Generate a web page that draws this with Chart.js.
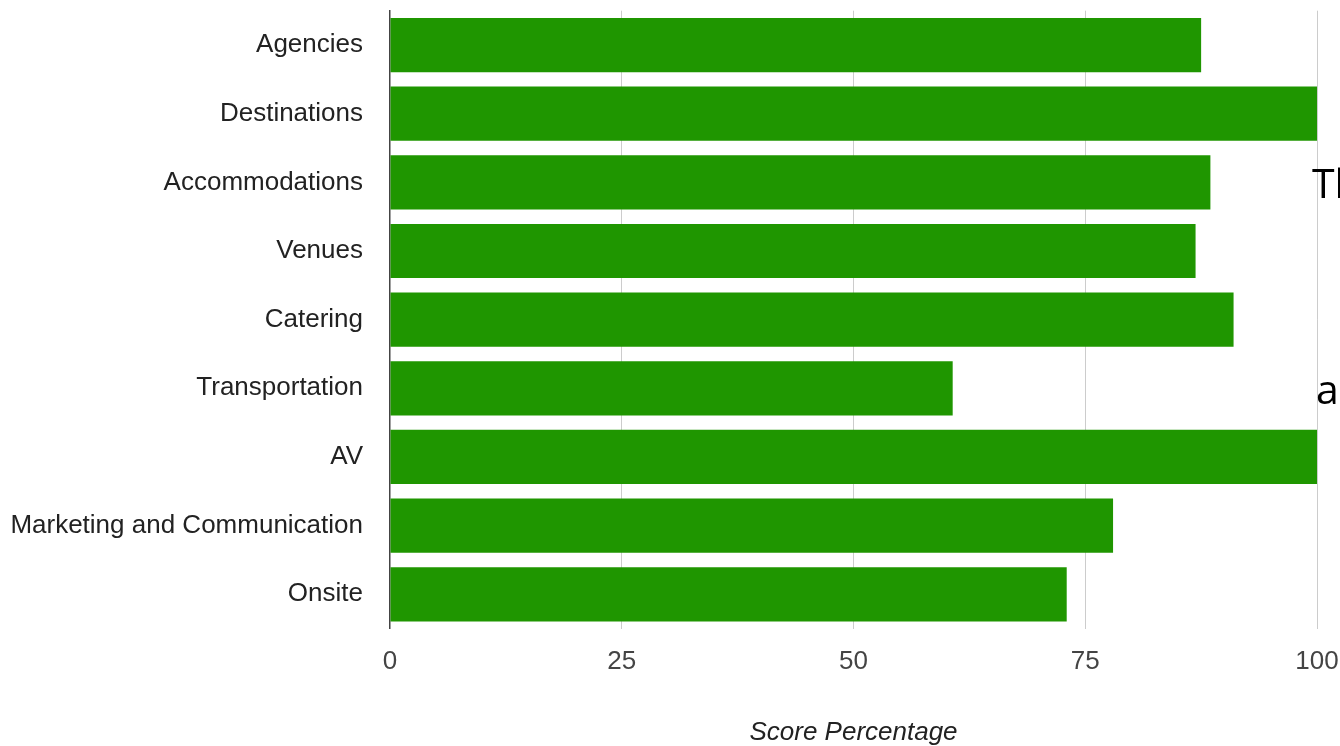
<!DOCTYPE html>
<html>
<head>
<meta charset="utf-8">
<script src="https://cdn.jsdelivr.net/npm/chart.js@4.4.1/dist/chart.umd.min.js"></script>
<style>
  html, body { margin: 0; padding: 0; background: #fff; overflow: hidden; }
  #wrap { position: relative; width: 1340px; height: 746px; overflow: hidden; }
  canvas { position: absolute; left: 0; top: 0; }
  .ov { position: absolute; font-family: "Open Sans", sans-serif; font-size: 41px; line-height: 1; color: #000; white-space: nowrap; }
</style>
</head>
<body>
<div id="wrap">
  <canvas id="c" width="1340" height="746"></canvas>
  <div class="ov" style="left:1312px; top:162px;">Th</div>
  <div class="ov" style="left:1316px; top:368px;">a</div>
</div>
<script>
const categories = ["Agencies", "Destinations", "Accommodations", "Venues", "Catering", "Transportation", "AV", "Marketing and Communication", "Onsite"];
const scores = [87.5, 100, 88.5, 86.9, 91.0, 60.7, 100, 78.0, 73.0];
const tickValues = [0, 25, 50, 75, 100];
const axisTitle = "Score Percentage";

const FONT = "'Liberation Sans', Arial, sans-serif";

new Chart(document.getElementById("c"), {
  type: "bar",
  data: {
    labels: categories,
    datasets: [{
      data: scores,
      backgroundColor: "#1f9600",
      borderWidth: 0,
      barPercentage: 0.79,
      categoryPercentage: 1.0
    }]
  },
  options: {
    indexAxis: "y",
    responsive: false,
    animation: false,
    devicePixelRatio: 1,
    layout: { padding: { top: 10.7, right: 23, bottom: 0, left: 0 } },
    plugins: { legend: { display: false }, tooltip: { enabled: false } },
    scales: {
      x: {
        min: 0, max: 100,
        afterBuildTicks: (s) => { s.ticks = tickValues.map(v => ({ value: v })); },
        afterFit: (s) => { s.height = 117.4; s.paddingLeft = 0; s.paddingRight = 0; },
        grid: {
          color: (ctx) => ctx.tick && ctx.tick.value === 0 ? "rgba(0,0,0,0)" : "#cccccc",
          lineWidth: 1,
          drawTicks: false
        },
        border: { display: false },
        ticks: {
          padding: 18,
          color: "#444",
          font: { family: FONT, size: 26 },
          maxRotation: 0
        },
        title: {
          display: true,
          text: axisTitle,
          color: "#222",
          font: { family: FONT, size: 26, style: "italic" },
          padding: { top: 0, bottom: -2 }
        }
      },
      y: {
        afterFit: (s) => { s.width = 390; s.paddingTop = 0; s.paddingBottom = 0; },
        grid: { display: false, drawTicks: false },
        border: { display: true, color: "#444", width: 1.5 },
        ticks: {
          padding: 27,
          color: "#222",
          font: { family: FONT, size: 26 },
          autoSkip: false
        }
      }
    }
  }
});
</script>
</body>
</html>
